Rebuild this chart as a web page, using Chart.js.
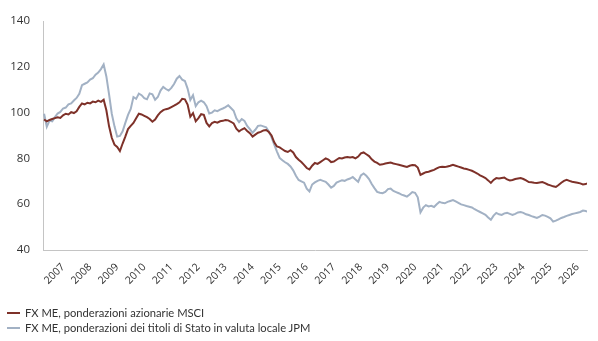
<!DOCTYPE html>
<html>
<head>
<meta charset="utf-8">
<script src="https://cdn.jsdelivr.net/npm/chart.js@4/dist/chart.umd.min.js"></script>
<style>
  html, body { margin: 0; padding: 0; background: #ffffff; }
  #wrap { position: relative; width: 598px; height: 341px; }
  #legend { position: absolute; left: 7px; top: 305px; font-family: Lato, "Open Sans", sans-serif; font-size: 11.2px; color: #333; }
  .item { height: 15px; line-height: 15px; white-space: nowrap; }
  .sw { display: inline-block; width: 13px; height: 2px; vertical-align: middle; margin-right: 5px; position: relative; top: -1px; }
</style>
</head>
<body>
<div id="wrap">
  <canvas id="c" width="598" height="341"></canvas>
  <div id="legend"></div>
</div>
<script>
// Time positions (decimal years)
const dates = [
 2006.3,2006.4,2006.5,2006.6,2006.7,2006.8,2006.9,2007.0,2007.1,2007.2,
 2007.3,2007.4,2007.5,2007.6,2007.7,2007.8,2007.9,2008.0,2008.1,2008.2,
 2008.3,2008.4,2008.5,2008.6,2008.7,2008.8,2008.9,2009.0,2009.1,2009.2,
 2009.3,2009.4,2009.5,2009.6,2009.7,2009.8,2009.9,2010.0,2010.1,2010.2,
 2010.3,2010.4,2010.5,2010.6,2010.7,2010.8,2010.9,2011.0,2011.1,2011.2,
 2011.3,2011.4,2011.5,2011.6,2011.7,2011.8,2011.9,2012.0,2012.1,2012.2,
 2012.3,2012.4,2012.5,2012.6,2012.7,2012.8,2012.9,2013.0,2013.1,2013.2,
 2013.3,2013.4,2013.5,2013.6,2013.7,2013.8,2013.9,2014.0,2014.1,2014.2,
 2014.3,2014.4,2014.5,2014.6,2014.7,2014.8,2014.9,2015.0,2015.1,2015.2,
 2015.3,2015.4,2015.5,2015.6,2015.7,2015.8,2015.9,2016.0,2016.1,2016.2,
 2016.3,2016.4,2016.5,2016.6,2016.7,2016.8,2016.9,2017.0,2017.1,2017.2,
 2017.3,2017.4,2017.5,2017.6,2017.7,2017.8,2017.9,2018.0,2018.1,2018.2,
 2018.3,2018.4,2018.5,2018.6,2018.7,2018.8,2018.9,2019.0,2019.1,2019.2,
 2019.3,2019.4,2019.5,2019.6,2019.7,2019.8,2019.9,2020.0,2020.1,2020.2,
 2020.3,2020.4,2020.5,2020.6,2020.7,2020.8,2020.9,2021.0,2021.1,2021.2,
 2021.3,2021.4,2021.5,2021.6,2021.7,2021.8,2021.9,2022.0,2022.1,2022.2,
 2022.3,2022.4,2022.5,2022.6,2022.7,2022.8,2022.9,2023.0,2023.1,2023.2,
 2023.3,2023.4,2023.5,2023.6,2023.7,2023.8,2023.9,2024.0,2024.1,2024.2,
 2024.3,2024.4,2024.5,2024.6,2024.7,2024.8,2024.9,2025.0,2025.1,2025.2,
 2025.3,2025.4,2025.5,2025.6,2025.7,2025.8,2025.9,2026.0,2026.1,2026.2,
 2026.3,2026.4
];

// FX ME, ponderazioni azionarie MSCI
const msci = [
 97.0,96.2,96.8,97.2,97.6,98.0,97.7,98.8,99.5,99.2,
 100.2,99.8,100.6,102.5,104.0,103.6,104.3,104.0,104.8,104.5,
 105.2,104.7,105.6,101.0,94.0,89.0,86.0,85.0,83.2,86.5,
 89.5,92.8,94.2,95.5,97.5,99.5,99.2,98.6,98.0,97.2,
 96.0,97.0,98.8,100.2,101.1,101.5,101.8,102.4,103.0,103.7,
 104.5,106.0,105.8,103.5,98.2,99.8,96.2,97.6,99.3,99.0,
 95.5,94.0,95.4,96.0,95.6,96.2,96.4,96.8,96.6,96.0,
 95.3,93.0,91.8,92.6,93.2,92.0,91.0,89.5,90.4,91.2,
 91.6,92.2,92.4,91.5,90.0,87.0,85.2,84.8,84.0,83.2,
 82.8,83.6,82.6,80.6,79.4,78.4,77.2,75.8,75.2,76.8,
 78.0,77.6,78.4,79.2,80.0,79.5,78.4,78.6,79.4,80.2,
 80.0,80.4,80.6,80.4,80.6,80.0,80.8,82.2,82.6,81.8,
 81.0,79.6,78.6,78.0,77.2,77.4,77.8,78.0,78.2,77.8,
 77.5,77.2,76.9,76.6,76.3,76.8,77.1,77.0,76.0,72.8,
 73.4,74.0,74.2,74.6,75.0,75.6,76.2,76.4,76.2,76.5,
 76.8,77.2,76.8,76.4,76.0,75.6,75.4,75.0,74.6,74.0,
 73.4,72.6,72.0,71.4,70.4,69.3,70.6,71.4,71.2,71.4,
 71.6,70.8,70.4,70.6,71.0,71.2,71.4,71.0,70.4,69.7,
 69.6,69.4,69.3,69.5,69.7,69.2,68.6,68.2,67.8,67.5,
 68.4,69.4,70.2,70.6,70.2,69.8,69.6,69.4,69.1,68.6,
 68.8,69.3
];

// FX ME, ponderazioni dei titoli di Stato in valuta locale JPM
const jpm = [
 99.5,93.8,96.5,96.2,98.0,99.6,100.3,101.8,102.2,103.6,
 104.0,105.3,106.4,108.2,112.0,112.6,113.2,114.4,115.0,116.6,
 117.5,119.0,121.0,115.8,108.0,99.5,94.0,89.5,89.8,91.8,
 95.5,99.0,101.6,106.8,106.0,108.3,107.6,106.3,105.8,108.4,
 108.0,105.6,106.8,109.6,111.2,110.3,109.6,110.8,112.5,114.8,
 116.0,114.4,113.8,110.5,105.5,107.6,102.8,104.5,105.2,104.5,
 102.8,99.6,100.0,101.0,100.6,101.3,101.8,102.4,103.2,102.0,
 100.8,97.5,95.8,97.2,96.4,94.2,92.8,91.2,92.5,94.2,
 94.4,94.0,93.6,91.8,89.2,86.0,83.0,80.2,79.2,78.3,
 77.6,76.5,74.8,72.4,70.6,70.0,69.4,66.8,65.6,68.6,
 69.5,70.2,70.6,70.2,69.8,68.6,67.2,68.0,69.4,70.0,
 70.4,70.2,70.8,71.2,71.9,70.8,69.8,72.6,73.4,72.4,
 71.0,68.8,67.0,65.4,65.0,64.8,65.4,66.6,66.8,65.8,
 65.3,64.8,64.2,63.8,63.3,64.2,65.3,65.0,63.0,56.4,
 58.5,59.6,59.0,59.3,58.8,60.0,61.0,60.6,60.4,61.0,
 61.4,61.8,61.2,60.6,59.9,59.6,59.2,58.9,58.6,57.8,
 57.2,56.6,56.0,55.4,54.2,53.2,55.0,56.2,55.6,55.3,
 56.0,56.2,55.8,55.3,55.8,56.4,56.6,56.2,55.6,55.3,
 54.8,54.4,54.0,54.6,55.3,55.0,54.5,53.8,52.4,52.8,
 53.4,54.0,54.4,54.9,55.3,55.7,56.0,56.3,56.6,57.2,
 57.0,56.6
];

const yearTicks = [2007,2008,2009,2010,2011,2012,2013,2014,2015,2016,2017,2018,2019,2020,2021,2022,2023,2024,2025,2026];
const yTicks = [40,60,80,100,120,140];

const seriesNames = [
  "FX ME, ponderazioni azionarie MSCI",
  "FX ME, ponderazioni dei titoli di Stato in valuta locale JPM"
];
const seriesColors = ["#7e3129", "#a2b1c4"];

const toPoints = vals => vals.map((v, i) => ({ x: dates[i], y: v }));

new Chart(document.getElementById('c'), {
  type: 'line',
  data: {
    datasets: [
      { label: seriesNames[0], data: toPoints(msci), borderColor: seriesColors[0], borderWidth: 2, pointRadius: 0, tension: 0 },
      { label: seriesNames[1], data: toPoints(jpm), borderColor: seriesColors[1], borderWidth: 2, pointRadius: 0, tension: 0 }
    ]
  },
  options: {
    responsive: false,
    animation: false,
    plugins: { legend: { display: false }, tooltip: { enabled: false } },
    layout: { padding: { top: 21, right: 11, bottom: 51, left: 0 } },
    scales: {
      x: {
        type: 'linear',
        min: 2006.26,
        max: 2026.35,
        grid: { display: false, drawTicks: false },
        border: { display: true, color: '#c4c4c4', width: 1 },
        afterBuildTicks: s => { s.ticks = yearTicks.map(v => ({ value: v })); },
        afterFit: s => { s.height = 40; },
        ticks: {
          autoSkip: false,
          minRotation: 45,
          maxRotation: 45,
          padding: 11,
          color: '#333',
          font: { family: 'Open Sans', size: 10.5 },
          callback: v => String(v)
        }
      },
      y: {
        min: 40,
        max: 140,
        grid: { display: false, drawTicks: false },
        border: { display: true, color: '#c4c4c4', width: 1 },
        afterBuildTicks: s => { s.ticks = yTicks.map(v => ({ value: v })); },
        afterFit: s => { s.width = 43; },
        ticks: {
          padding: 13,
          color: '#333',
          font: { family: 'Open Sans', size: 11.5 }
        }
      }
    }
  }
});

const lg = document.getElementById('legend');
seriesNames.forEach((n, i) => {
  const d = document.createElement('div');
  d.className = 'item';
  const sw = document.createElement('span');
  sw.className = 'sw';
  sw.style.background = seriesColors[i];
  d.appendChild(sw);
  d.appendChild(document.createTextNode(n));
  lg.appendChild(d);
});
</script>
</body>
</html>
